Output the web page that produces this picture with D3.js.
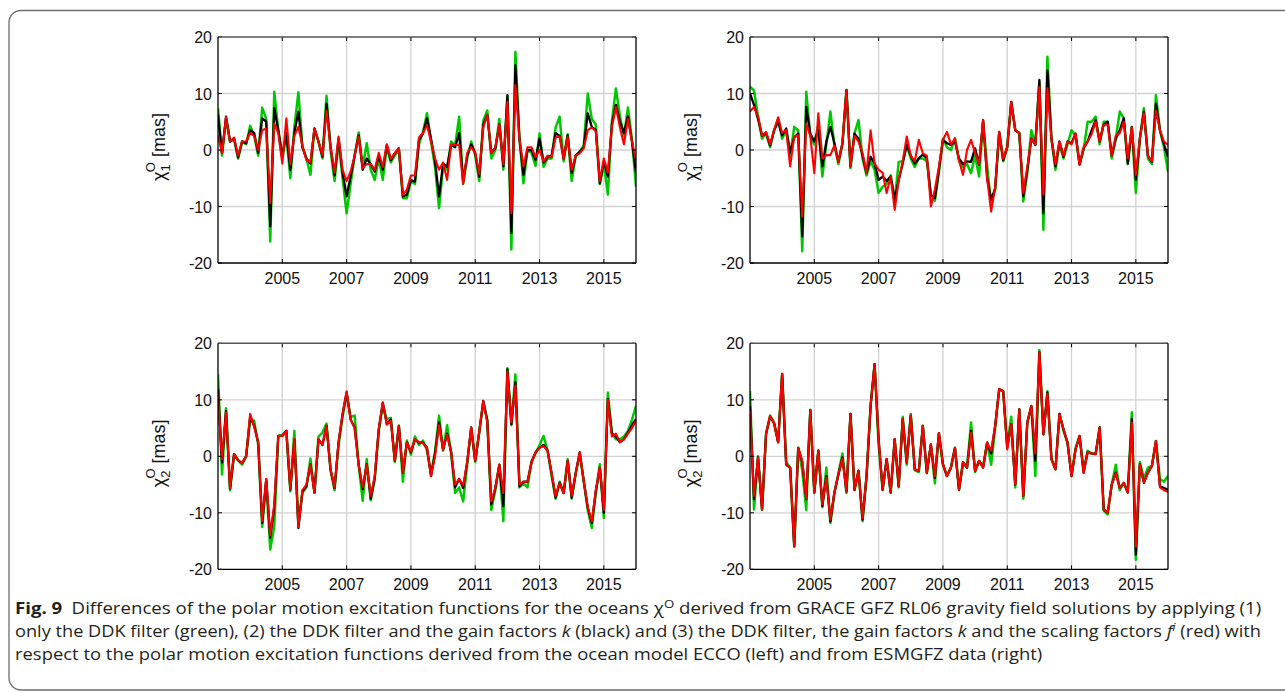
<!DOCTYPE html>
<html>
<head>
<meta charset="utf-8">
<script src="https://cdn.jsdelivr.net/npm/d3@7/dist/d3.min.js"></script>
<style>
  body { margin: 0; background: #fff; }
  svg { display: block; }
</style>
</head>
<body>
<script>
// time axis (decimal years, 1.5-month spacing)
var years = [
  2003,2003.125,2003.25,2003.375,2003.5,2003.625,2003.75,2003.875,
  2004,2004.125,2004.25,2004.375,2004.5,2004.625,2004.75,2004.875,
  2005,2005.125,2005.25,2005.375,2005.5,2005.625,2005.75,2005.875,
  2006,2006.125,2006.25,2006.375,2006.5,2006.625,2006.75,2006.875,
  2007,2007.125,2007.25,2007.375,2007.5,2007.625,2007.75,2007.875,
  2008,2008.125,2008.25,2008.375,2008.5,2008.625,2008.75,2008.875,
  2009,2009.125,2009.25,2009.375,2009.5,2009.625,2009.75,2009.875,
  2010,2010.125,2010.25,2010.375,2010.5,2010.625,2010.75,2010.875,
  2011,2011.125,2011.25,2011.375,2011.5,2011.625,2011.75,2011.875,
  2012,2012.125,2012.25,2012.375,2012.5,2012.625,2012.75,2012.875,
  2013,2013.125,2013.25,2013.375,2013.5,2013.625,2013.75,2013.875,
  2014,2014.125,2014.25,2014.375,2014.5,2014.625,2014.75,2014.875,
  2015,2015.125,2015.25,2015.375,2015.5,2015.625,2015.75,2015.875,
  2016
];

var xTicks = [2005, 2007, 2009, 2011, 2013, 2015];
var yTicks = [-20, -10, 0, 10, 20];

// chi1, ECCO (top left)
var chi1EccoGreen = [
  7.4,-1.0,5.5,1.5,2.0,-1.5,1.5,1.0,4.3,2.5,
  -1.0,7.5,5.5,-16.2,10.3,3.5,-1.5,2.5,-5.0,4.0,
  10.2,0.5,-1.5,-4.4,3.8,1.5,-1.5,9.6,0.0,-5.5,
  1.5,-5.0,-11.2,-6.0,-1.0,3.1,-3.0,1.2,-3.5,-5.3,
  -1.5,-5.3,0.5,-2.2,-1.0,0.0,-8.5,-8.5,-5.5,-6.0,
  1.0,3.2,6.5,1.5,-3.0,-10.3,-2.8,-3.5,1.5,0.8,
  5.9,-6.0,-1.5,1.5,-1.0,-5.5,5.2,7.0,-1.5,0.0,
  5.5,-3.5,9.5,-17.6,17.4,2.0,-5.9,0.0,-0.5,-2.8,
  2.9,-3.0,-1.5,-1.5,4.0,5.9,-2.0,2.8,-5.5,-1.0,
  -0.3,0.8,10.0,5.5,4.5,-6.0,-2.5,-7.9,5.0,10.9,
  6.0,2.5,7.5,1.8,-6.5
];
var chi1EccoBlack = [
  6.2,-0.5,5.9,1.5,2.0,-1.3,1.5,1.2,3.5,3.0,
  -0.5,5.6,5.0,-13.5,7.4,3.5,-1.0,3.0,-3.5,3.0,
  6.8,0.5,-1.5,-2.4,3.8,1.5,-1.2,8.2,0.6,-4.5,
  2.0,-4.0,-8.2,-4.7,-1.0,2.6,-3.5,-1.5,-2.5,-3.8,
  -1.0,-3.5,0.9,-1.8,-0.6,0.3,-8.2,-7.9,-5.3,-5.6,
  1.8,2.9,5.6,2.0,-2.0,-8.2,-2.4,-3.0,0.9,0.5,
  3.0,-5.5,-1.0,1.0,-0.5,-4.7,4.5,6.2,-0.5,0.3,
  4.5,-2.9,9.7,-14.7,15.0,2.0,-4.4,0.0,0.0,-1.8,
  2.0,-2.2,-1.3,-1.0,3.0,2.5,-1.5,2.6,-4.1,-1.0,
  -0.3,0.5,6.5,4.1,3.5,-5.9,-2.0,-4.7,4.5,8.0,
  5.0,3.0,6.0,1.5,-4.0
];
var chi1EccoRed = [
  2.6,-0.6,5.8,1.5,2.2,-1.0,1.5,1.5,3.0,2.5,
  0.0,3.5,3.8,-9.4,4.7,3.0,-2.4,5.6,-2.5,2.5,
  4.1,0.8,-1.8,-2.2,3.8,1.5,-1.0,7.0,0.6,-4.0,
  2.4,-3.5,-5.5,-3.8,-1.0,2.4,-3.2,-2.5,-2.5,-3.5,
  -0.5,-3.0,1.0,-1.6,-0.5,0.3,-8.0,-7.0,-4.5,-4.5,
  2.2,3.0,4.4,1.5,-1.5,-3.5,-2.2,-5.3,1.0,0.9,
  0.9,-6.0,-0.5,0.5,-0.5,-4.2,4.0,6.2,-0.5,0.5,
  4.5,-2.5,8.5,-11.2,11.5,2.0,-2.9,0.5,0.5,-1.3,
  0.0,-2.0,-1.0,-1.3,2.2,2.4,-1.5,2.3,-3.5,-1.0,
  -0.6,0.3,3.5,4.0,3.3,-5.5,-1.5,-4.0,4.0,7.6,
  4.0,1.0,5.5,1.5,-1.8
];

// chi1, ESMGFZ (top right)
var chi1EsmGreen = [
  11.2,10.5,6.0,2.0,3.0,0.5,3.5,5.5,2.0,3.5,
  -1.0,4.1,3.5,-17.9,10.3,2.5,1.0,4.5,-4.7,1.0,
  6.8,0.8,-2.5,1.0,10.6,-3.2,3.0,5.3,-1.5,-4.5,
  -2.0,-3.5,-7.6,-6.5,-6.0,-4.5,-9.0,-2.1,-2.0,0.8,
  -1.5,-3.0,-1.5,-1.5,-2.0,-8.0,-9.0,-4.0,2.0,0.5,
  0.0,2.1,-2.0,-3.0,-2.5,-4.1,-1.0,-4.7,5.0,-2.9,
  -9.5,-7.0,3.0,-2.0,0.5,8.5,3.5,3.0,-9.1,-4.0,
  3.5,1.0,12.0,-14.1,16.5,2.0,-3.5,1.0,-1.5,1.0,
  3.5,2.5,-2.5,0.0,5.0,5.0,5.9,1.0,5.0,5.0,
  -1.5,2.0,6.8,5.6,-2.5,4.0,-7.6,2.0,7.4,-1.5,
  -2.5,9.7,3.5,0.5,-3.8
];
var chi1EsmBlack = [
  10.0,8.0,5.5,2.5,3.0,0.8,3.5,5.0,2.6,3.8,
  -0.5,2.2,2.9,-15.3,7.6,2.9,1.5,3.5,-2.9,1.5,
  4.1,1.2,-2.1,1.2,10.6,-2.9,2.9,2.0,-1.0,-4.1,
  -1.2,-2.4,-5.3,-4.7,-5.5,-4.7,-8.8,-5.3,-2.4,1.0,
  -1.0,-2.4,-1.5,-0.8,-1.5,-8.0,-8.5,-3.5,1.8,1.2,
  0.9,1.5,-1.5,-2.5,-2.0,-2.1,0.3,-2.6,5.3,-5.0,
  -8.8,-6.8,3.2,-1.8,0.5,8.5,3.5,3.0,-8.2,-3.5,
  2.0,0.9,12.4,-11.2,14.1,2.0,-2.9,1.5,-1.2,1.5,
  1.2,2.9,-2.6,0.3,1.5,3.5,5.3,1.5,4.5,5.0,
  -1.0,2.0,3.5,5.6,-2.4,4.1,-5.3,2.0,6.8,-1.0,
  -2.1,8.2,3.5,1.0,-1.2
];
var chi1EsmRed = [
  6.8,7.6,6.0,2.5,3.2,1.0,3.5,5.8,3.0,3.5,
  -2.9,2.4,2.6,-11.8,4.7,2.5,-4.1,6.5,-1.5,-0.9,
  -0.9,0.8,-2.1,1.2,10.6,-2.9,2.5,1.5,-0.5,-4.1,
  3.5,-2.4,-3.5,-4.0,-7.6,-4.7,-10.6,-5.3,-2.0,2.4,
  -1.0,-2.0,1.8,-0.6,-1.0,-10.0,-7.0,-3.0,1.8,3.2,
  1.0,2.0,-1.8,-4.4,0.0,1.8,-0.5,-2.5,5.3,-5.0,
  -10.9,-6.5,3.2,-1.5,0.5,8.5,3.5,3.0,-7.6,-3.0,
  2.0,1.0,11.2,-7.9,10.9,2.0,-2.5,1.5,-1.0,1.5,
  1.0,2.9,-2.6,0.5,1.5,2.8,5.0,1.5,4.5,4.5,
  -1.0,2.5,3.0,5.0,-1.5,4.0,-4.4,2.0,6.5,-1.0,
  -2.0,7.0,3.5,1.5,0.9
];

// chi2, ECCO (bottom left)
var chi2EccoGreen = [
  14.5,-3.2,8.5,-6.0,0.4,-0.7,-1.5,0.0,6.5,6.3,
  2.0,-12.5,-4.5,-16.5,-12.4,3.6,3.8,4.5,-6.2,4.5,
  -12.0,-6.5,-5.5,-0.4,-6.5,3.5,4.2,5.8,-2.5,-6.0,
  2.0,7.0,11.0,7.0,7.2,-1.5,-7.9,-0.5,-7.8,-4.0,
  4.5,9.0,6.6,6.8,-1.0,5.4,-4.5,2.8,0.3,3.5,
  2.0,2.8,1.0,-3.0,0.8,7.2,1.0,5.5,0.5,-6.5,
  -5.5,-8.0,-1.5,5.0,-1.0,4.5,9.5,6.5,-9.5,-6.0,
  -1.5,-11.5,15.6,5.5,14.5,-5.5,-4.8,-5.5,-1.0,0.5,
  2.0,3.6,1.0,-3.5,-7.5,-4.5,-6.5,-0.5,-7.5,-3.0,
  0.5,-4.5,-9.5,-12.7,-6.5,-1.4,-10.9,11.3,4.2,3.0,
  3.0,3.5,4.5,6.5,8.9
];
var chi2EccoBlack = [
  11.9,-1.1,8.0,-5.7,0.4,-0.7,-1.2,0.0,7.0,5.4,
  2.5,-11.8,-4.1,-14.4,-9.0,3.6,3.6,4.5,-5.9,3.0,
  -12.7,-6.2,-5.3,-1.4,-6.4,3.0,2.0,5.4,-2.3,-5.6,
  2.5,7.5,11.3,6.5,5.1,-1.5,-5.8,-1.4,-7.5,-3.8,
  4.8,9.5,5.7,6.5,-0.8,5.4,-2.9,2.5,0.7,3.0,
  2.4,2.4,1.5,-3.5,0.5,6.0,1.2,4.0,0.8,-5.5,
  -4.0,-5.6,-1.0,5.1,-0.8,4.2,9.8,6.3,-8.5,-5.6,
  -1.5,-8.8,15.4,5.7,13.1,-5.3,-4.5,-4.5,-1.0,0.7,
  1.5,2.0,1.0,-3.0,-7.3,-4.7,-6.5,-0.8,-7.3,-3.0,
  0.7,-4.4,-9.1,-11.8,-6.2,-2.0,-10.0,10.1,4.0,3.5,
  2.5,3.0,4.2,5.5,6.6
];
var chi2EccoRed = [
  10.7,-0.5,7.8,-5.6,0.4,-0.7,-1.2,0.0,7.5,5.2,
  2.5,-11.5,-4.0,-14.0,-8.5,3.6,3.6,4.5,-5.8,3.0,
  -12.5,-6.0,-5.0,-1.5,-6.5,3.0,2.0,5.4,-2.3,-5.5,
  2.5,7.5,11.5,6.5,5.0,-1.5,-5.5,-1.5,-7.0,-3.5,
  4.8,9.5,5.6,6.3,-0.8,5.4,-2.8,2.5,0.8,3.0,
  2.5,2.3,1.5,-3.5,0.0,5.5,1.2,3.8,0.8,-5.0,
  -4.0,-5.2,-1.0,5.1,-0.8,4.3,9.8,6.0,-8.0,-5.6,
  -1.5,-6.5,15.0,6.0,12.5,-5.0,-4.5,-4.5,-1.2,0.7,
  1.5,1.8,1.0,-3.0,-7.0,-4.8,-6.5,-0.8,-7.0,-3.0,
  0.7,-4.4,-9.0,-11.5,-6.0,-2.0,-9.5,10.0,3.5,4.0,
  2.5,3.0,4.0,5.0,6.3
];

// chi2, ESMGFZ (bottom right)
var chi2EsmGreen = [
  11.6,-9.4,0.0,-9.5,4.0,7.2,6.0,2.5,14.5,-1.0,
  -2.0,-16.0,1.5,-2.5,-9.5,8.2,-6.5,1.0,-9.0,-2.0,
  -11.8,-6.5,-3.0,0.5,-6.5,7.5,-6.0,-2.5,-11.5,-3.5,
  8.9,16.3,2.0,-6.0,-0.5,-6.5,3.0,-5.5,7.0,-1.5,
  7.5,-2.5,-2.8,5.4,-3.0,2.0,-4.8,4.0,-1.5,-3.5,
  -2.0,1.5,-6.0,-1.0,-2.0,6.0,-2.8,-0.8,-1.8,2.4,
  -1.5,5.0,11.9,11.5,2.0,7.0,-5.5,8.3,-7.5,6.0,
  8.9,-3.5,18.8,3.9,11.5,-0.5,-2.3,7.5,4.5,2.4,
  -3.5,1.5,3.6,-2.5,1.0,0.5,0.4,5.1,-9.6,-10.3,
  -5.0,-1.5,-6.0,-4.7,-6.4,7.8,-18.3,-1.0,-4.0,-2.0,
  -1.7,2.7,-4.0,-4.5,-3.5
];
var chi2EsmBlack = [
  8.9,-7.6,-0.2,-9.4,4.0,7.0,5.8,2.5,14.6,-1.5,
  -2.0,-15.9,1.5,-1.0,-7.6,8.2,-6.4,1.0,-8.8,-3.5,
  -11.5,-6.4,-3.2,-0.2,-6.2,7.5,-5.9,-2.6,-11.2,-3.5,
  8.9,16.3,3.0,-5.9,-0.5,-6.4,3.0,-5.3,6.6,-1.1,
  7.2,-2.3,-2.6,5.4,-2.9,2.1,-3.8,4.1,-1.4,-3.5,
  -2.0,1.5,-5.9,-1.1,-2.0,4.5,-2.6,-0.8,-2.0,2.4,
  0.5,5.4,11.9,11.5,1.5,5.7,-5.0,8.3,-7.0,6.0,
  8.9,-0.8,18.4,3.9,11.3,-0.5,-2.3,7.5,4.8,2.4,
  -3.5,1.2,3.6,-2.9,0.7,0.5,0.4,5.1,-9.4,-10.0,
  -5.0,-2.9,-5.6,-4.7,-6.4,6.6,-17.4,-1.4,-4.7,-2.9,
  -1.7,2.7,-5.3,-5.6,-5.9
];
var chi2EsmRed = [
  8.0,-7.0,-0.2,-9.4,4.0,7.2,5.8,2.5,14.6,-1.5,
  -2.0,-15.9,1.5,-0.8,-7.5,8.2,-6.4,1.0,-8.5,-3.8,
  -11.2,-6.4,-3.2,-0.4,-6.2,7.5,-5.9,-2.6,-11.0,-3.5,
  8.9,16.3,3.0,-5.9,-0.5,-6.4,3.0,-5.3,6.6,-1.1,
  7.2,-2.3,-2.6,5.4,-2.9,2.1,-3.5,4.1,-1.4,-3.5,
  -2.0,1.5,-5.9,-1.1,-2.0,4.2,-2.6,-0.8,-2.0,2.4,
  1.0,5.4,11.9,11.5,1.2,5.7,-5.0,8.3,-7.0,6.0,
  8.9,0.5,18.4,3.9,11.0,-0.5,-2.3,7.5,4.8,2.4,
  -3.5,1.2,3.6,-2.9,0.7,0.5,0.4,5.1,-9.4,-10.0,
  -5.0,-3.0,-5.6,-4.7,-6.4,6.0,-16.0,-1.4,-4.7,-2.9,
  -1.7,2.7,-5.5,-6.0,-6.3
];

var W = 1285, H = 693;
var pw = 418, ph = 226;
var font = "'Liberation Sans', Arial, Helvetica, sans-serif";

var panels = [
  {x0: 218, y0: 37,    sub: "1", lines: [chi1EccoGreen, chi1EccoBlack, chi1EccoRed]},
  {x0: 750, y0: 37,    sub: "1", lines: [chi1EsmGreen, chi1EsmBlack, chi1EsmRed]},
  {x0: 218, y0: 343.3, sub: "2", lines: [chi2EccoGreen, chi2EccoBlack, chi2EccoRed]},
  {x0: 750, y0: 343.3, sub: "2", lines: [chi2EsmGreen, chi2EsmBlack, chi2EsmRed]}
];
var colors = ["#00c800", "#000000", "#ff0000"];
var widths = [2.5, 2.3, 2.1];

var svg = d3.select("body").append("svg")
  .attr("width", W)
  .attr("height", H);

svg.append("rect")
  .attr("width", W).attr("height", H)
  .attr("fill", "#fff");

// rounded frame (cut off at the right)
svg.append("rect")
  .attr("x", 9).attr("y", 10.5)
  .attr("width", 1320).attr("height", 679.5)
  .attr("rx", 12).attr("ry", 12)
  .attr("fill", "none")
  .attr("stroke", "#6e6e6e")
  .attr("stroke-width", 1.3);

panels.forEach(function(p, k) {
  var x = d3.scaleLinear().domain([2003, 2016]).range([p.x0, p.x0 + pw]);
  var y = d3.scaleLinear().domain([-20, 20]).range([p.y0 + ph, p.y0]);
  var g = svg.append("g");

  // grid
  g.selectAll(".vg").data(xTicks).enter().append("line")
    .attr("x1", function(d) { return x(d); }).attr("x2", function(d) { return x(d); })
    .attr("y1", y(-20)).attr("y2", y(20))
    .attr("stroke", "#d2d2d2").attr("stroke-width", 1.3);
  g.selectAll(".hg").data(yTicks.slice(1, -1)).enter().append("line")
    .attr("x1", x(2003)).attr("x2", x(2016))
    .attr("y1", function(d) { return y(d); }).attr("y2", function(d) { return y(d); })
    .attr("stroke", "#d2d2d2").attr("stroke-width", 1.3);

  // series
  var clipId = "clip" + k;
  svg.append("clipPath").attr("id", clipId).append("rect")
    .attr("x", p.x0).attr("y", p.y0).attr("width", pw).attr("height", ph);
  var line = d3.line()
    .x(function(d, i) { return x(years[i]); })
    .y(function(d) { return y(d); });
  p.lines.forEach(function(arr, j) {
    g.append("path")
      .datum(arr.slice(0, years.length))
      .attr("d", line)
      .attr("clip-path", "url(#" + clipId + ")")
      .attr("fill", "none")
      .attr("stroke", colors[j])
      .attr("stroke-width", widths[j])
      .attr("stroke-linejoin", "round");
  });

  // inward ticks
  g.selectAll(".tb").data(xTicks).enter().append("line")
    .attr("x1", function(d) { return x(d); }).attr("x2", function(d) { return x(d); })
    .attr("y1", y(-20)).attr("y2", y(-20) - 4)
    .attr("stroke", "#000").attr("stroke-width", 1);
  g.selectAll(".tt").data(xTicks).enter().append("line")
    .attr("x1", function(d) { return x(d); }).attr("x2", function(d) { return x(d); })
    .attr("y1", y(20)).attr("y2", y(20) + 4)
    .attr("stroke", "#000").attr("stroke-width", 1);
  g.selectAll(".tl").data(yTicks).enter().append("line")
    .attr("x1", x(2003)).attr("x2", x(2003) + 4)
    .attr("y1", function(d) { return y(d); }).attr("y2", function(d) { return y(d); })
    .attr("stroke", "#000").attr("stroke-width", 1);
  g.selectAll(".tr").data(yTicks).enter().append("line")
    .attr("x1", x(2016)).attr("x2", x(2016) - 4)
    .attr("y1", function(d) { return y(d); }).attr("y2", function(d) { return y(d); })
    .attr("stroke", "#000").attr("stroke-width", 1);

  // box
  g.append("line").attr("x1", x(2003)).attr("x2", x(2016)).attr("y1", y(20)).attr("y2", y(20))
    .attr("stroke", "#555").attr("stroke-width", 1.6);
  g.append("line").attr("x1", x(2016)).attr("x2", x(2016)).attr("y1", y(20)).attr("y2", y(-20))
    .attr("stroke", "#000").attr("stroke-width", 1.3);
  g.append("line").attr("x1", x(2003)).attr("x2", x(2016)).attr("y1", y(-20)).attr("y2", y(-20))
    .attr("stroke", "#000").attr("stroke-width", 1.3);
  g.append("line").attr("x1", x(2003)).attr("x2", x(2003)).attr("y1", y(20)).attr("y2", y(-20))
    .attr("stroke", "#000").attr("stroke-width", 1.3);

  // tick labels
  g.selectAll(".xl").data(xTicks).enter().append("text")
    .attr("x", function(d) { return x(d); })
    .attr("y", y(-20) + 21)
    .attr("text-anchor", "middle")
    .style("font-family", font).style("font-size", "16px")
    .attr("fill", "#111")
    .text(function(d) { return d; });
  g.selectAll(".yl").data(yTicks).enter().append("text")
    .attr("x", x(2003) - 6)
    .attr("y", function(d) { return y(d) + 6; })
    .attr("text-anchor", "end")
    .style("font-family", font).style("font-size", "16px")
    .attr("fill", "#111")
    .text(function(d) { return d; });

  // y label: chi_sub^O [mas]
  var lab = g.append("text")
    .attr("transform", "translate(" + (p.x0 - 53) + "," + (p.y0 + ph / 2 - 3) + ") rotate(-90)")
    .attr("text-anchor", "middle")
    .style("font-family", font).style("font-size", "18px")
    .attr("fill", "#111");
  lab.append("tspan").text("\u03c7");
  lab.append("tspan").attr("dy", 5).style("font-size", "13px").text(p.sub);
  lab.append("tspan").attr("dx", -8).attr("dy", -15).style("font-size", "13px").text("O");
  lab.append("tspan").attr("dy", 10).text(" [mas]");
});

// caption: lines 1-2 run to the right margin, line 3 uses the same glyph scale
var capFont = "'Open Sans', 'Noto Sans', sans-serif";
function capLine(yb) {
  return svg.append("text")
    .attr("x", 0).attr("y", 0)
    .attr("data-y", yb)
    .style("font-family", capFont).style("font-size", "15.5px")
    .attr("fill", "#231f20");
}

var c1 = capLine(614);
c1.append("tspan").style("font-weight", "bold").text("Fig. 9");
c1.append("tspan").text("\u2002Differences of the polar motion excitation functions for the oceans \u03c7");
c1.append("tspan").attr("dy", -6).style("font-size", "11px").text("O");
c1.append("tspan").attr("dy", 6).text(" derived from GRACE GFZ RL06 gravity field solutions by applying (1)");

var c2 = capLine(637);
c2.append("tspan").text("only the DDK filter (green), (2) the DDK filter and the gain factors ");
c2.append("tspan").style("font-style", "italic").text("k");
c2.append("tspan").text(" (black) and (3) the DDK filter, the gain factors ");
c2.append("tspan").style("font-style", "italic").text("k");
c2.append("tspan").text(" and the scaling factors ");
c2.append("tspan").style("font-style", "italic").text("f");
c2.append("tspan").attr("dy", -6).style("font-size", "11px").style("font-style", "italic").text("i");
c2.append("tspan").attr("dy", 6).text(" (red) with");

var c3 = capLine(660);
c3.append("tspan").text("respect to the polar motion excitation functions derived from the ocean model ECCO (left) and from ESMGFZ data (right)");

var s1 = 1247 / c1.node().getBBox().width;
var s2 = 1247 / c2.node().getBBox().width;
var s3 = (s1 + s2) / 2;
[[c1, s1], [c2, s2], [c3, s3]].forEach(function(d) {
  d[0].attr("transform", "translate(15," + d[0].attr("data-y") + ") scale(" + d[1] + ",1)");
});
</script>
</body>
</html>
